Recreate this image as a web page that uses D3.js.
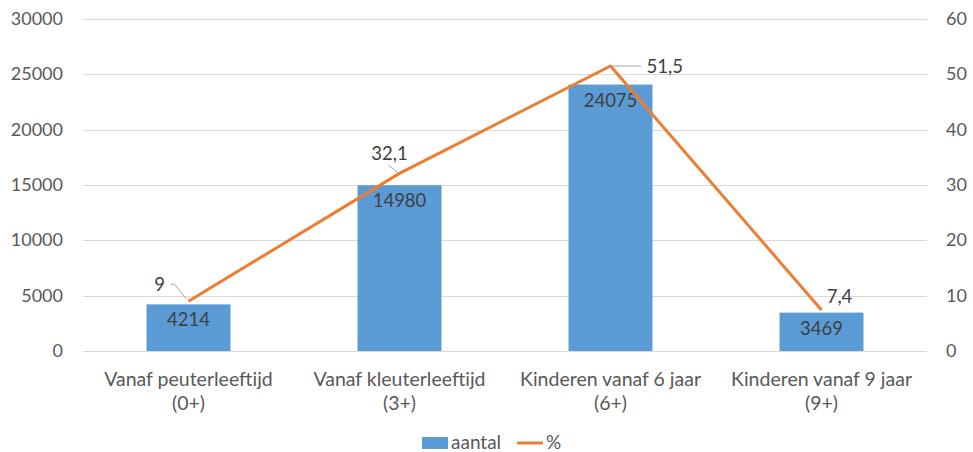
<!DOCTYPE html>
<html>
<head>
<meta charset="utf-8">
<script src="https://cdn.jsdelivr.net/npm/d3@7"></script>
<style>
  body { margin: 0; background: #fff; }
  text { font-family: Lato, "Open Sans", sans-serif; }
</style>
</head>
<body>
<div id="chart"></div>
<script>
// data
var categories = ["Vanaf peuterleeftijd (0+)", "Vanaf kleuterleeftijd (3+)", "Kinderen vanaf 6 jaar (6+)", "Kinderen vanaf 9 jaar (9+)"]
var catLines = [["Vanaf peuterleeftijd", "(0+)"], ["Vanaf kleuterleeftijd", "(3+)"], ["Kinderen vanaf 6 jaar", "(6+)"], ["Kinderen vanaf 9 jaar", "(9+)"]]
var aantal = [4214, 14980, 24075, 3469]
var percent = [9, 32.1, 51.5, 7.4]
var leftTicks = [0, 5000, 10000, 15000, 20000, 25000, 30000]
var rightTicks = [0, 10, 20, 30, 40, 50, 60]

// label placement for the % labels (offsets from the point, styling only)
var pctLabelPos = [
    {dx: -29, dy: -10, anchor: "middle", leader: [[-18, -17], [-14, -17], [-2, -2]]},
    {dx: -10, dy: -13, anchor: "middle", leader: [[-11, -8], [-2, -1]]},
    {dx: 36, dy: 7, anchor: "start", leader: [[0, 0], [31, 0]]},
    {dx: 18, dy: -7, anchor: "middle", leader: null}
]

var width = 973, height = 452
var margin = {left: 83, right: 46, top: 19, bottom: 101}

var svg = d3.select("#chart").append("svg")
    .attr("width", width)
    .attr("height", height)

var x = d3.scaleBand()
    .domain(categories)
    .range([margin.left, width - margin.right])
    .paddingInner(0.602)
    .paddingOuter(0.301)

var y0 = d3.scaleLinear().domain([0, 30000]).range([height - margin.bottom, margin.top])
var y1 = d3.scaleLinear().domain([0, 60]).range([height - margin.bottom, margin.top])

var fmt = d3.formatLocale({decimal: ",", thousands: ".", grouping: [3], currency: ["", ""]}).format(",")

// gridlines
svg.append("g")
    .selectAll("line")
    .data(leftTicks)
    .enter()
    .append("line")
    .attr("x1", margin.left)
    .attr("x2", width - margin.right)
    .attr("y1", function(d) { return Math.round(y0(d)) + 0.5 })
    .attr("y2", function(d) { return Math.round(y0(d)) + 0.5 })
    .attr("stroke", "#d9d9d9")
    .attr("stroke-width", 1)

// left axis labels
svg.append("g")
    .selectAll("text")
    .data(leftTicks)
    .enter()
    .append("text")
    .attr("x", 63)
    .attr("y", function(d) { return y0(d) + 6 })
    .attr("text-anchor", "end")
    .attr("font-size", 18)
    .attr("fill", "#595959")
    .text(function(d) { return d })

// right axis labels
svg.append("g")
    .selectAll("text")
    .data(rightTicks)
    .enter()
    .append("text")
    .attr("x", 946)
    .attr("y", function(d) { return y1(d) + 6 })
    .attr("text-anchor", "start")
    .attr("font-size", 18)
    .attr("fill", "#595959")
    .text(function(d) { return d })

// bars
svg.append("g")
    .selectAll("rect")
    .data(aantal)
    .enter()
    .append("rect")
    .attr("x", function(d, i) { return x(categories[i]) })
    .attr("y", function(d) { return y0(d) })
    .attr("width", x.bandwidth())
    .attr("height", function(d) { return y0(0) - y0(d) })
    .attr("fill", "#5b9bd5")

// bar value labels
svg.append("g")
    .selectAll("text")
    .data(aantal)
    .enter()
    .append("text")
    .attr("x", function(d, i) { return x(categories[i]) + x.bandwidth() / 2 })
    .attr("y", function(d) { return y0(d) + 22 })
    .attr("text-anchor", "middle")
    .attr("font-size", 18.5)
    .attr("fill", "#404040")
    .text(function(d) { return d })

// line for %
var line = d3.line()
    .x(function(d, i) { return x(categories[i]) + x.bandwidth() / 2 })
    .y(function(d) { return y1(d) })

svg.append("path")
    .datum(percent)
    .attr("d", line)
    .attr("fill", "none")
    .attr("stroke", "#ed7d31")
    .attr("stroke-width", 3)
    .attr("stroke-linejoin", "round")

// leader lines
percent.forEach(function(d, i) {
    var p = pctLabelPos[i]
    if (!p.leader) return
    var px = x(categories[i]) + x.bandwidth() / 2
    var py = y1(d)
    svg.append("polyline")
        .attr("points", p.leader.map(function(o) { return [px + o[0], py + o[1]] }).join(" "))
        .attr("fill", "none")
        .attr("stroke", "#a6a6a6")
        .attr("stroke-width", 1)
})

// % labels
svg.append("g")
    .selectAll("text")
    .data(percent)
    .enter()
    .append("text")
    .attr("x", function(d, i) { return x(categories[i]) + x.bandwidth() / 2 + pctLabelPos[i].dx })
    .attr("y", function(d, i) { return y1(d) + pctLabelPos[i].dy })
    .attr("text-anchor", function(d, i) { return pctLabelPos[i].anchor })
    .attr("font-size", 18.5)
    .attr("fill", "#404040")
    .text(function(d) { return fmt(d) })

// category labels
var cat = svg.append("g")
    .selectAll("text")
    .data(catLines)
    .enter()
    .append("text")
    .attr("text-anchor", "middle")
    .attr("font-size", 19.5)
    .attr("fill", "#595959")

cat.selectAll("tspan")
    .data(function(d, i) { return d.map(function(s) { return {s: s, i: i} }) })
    .enter()
    .append("tspan")
    .attr("x", function(d) { return x(categories[d.i]) + x.bandwidth() / 2 })
    .attr("y", function(d, j) { return 386 + j * 24 })
    .text(function(d) { return d.s })

// legend
var lg = svg.append("g")
lg.append("rect")
    .attr("x", 422).attr("y", 437)
    .attr("width", 26).attr("height", 12)
    .attr("fill", "#5b9bd5")
lg.append("text")
    .attr("x", 451).attr("y", 449)
    .attr("font-size", 19)
    .attr("fill", "#595959")
    .text("aantal")
lg.append("line")
    .attr("x1", 517).attr("x2", 543)
    .attr("y1", 443).attr("y2", 443)
    .attr("stroke", "#ed7d31")
    .attr("stroke-width", 3)
lg.append("text")
    .attr("x", 546).attr("y", 449)
    .attr("font-size", 19)
    .attr("fill", "#595959")
    .text("%")
</script>
</body>
</html>
